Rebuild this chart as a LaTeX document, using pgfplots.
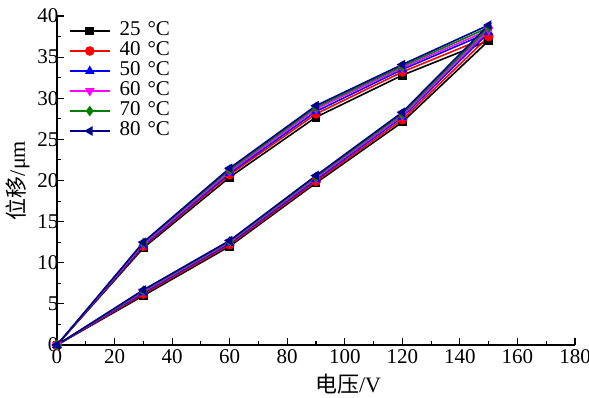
\documentclass[border=0pt]{standalone}
\usepackage{fontspec}
\setmainfont{Liberation Serif}
\newfontfamily\cjk{Noto Sans CJK SC}
\usepackage{pgfplots}
\pgfplotsset{compat=1.18}
\definecolor{mygreen}{RGB}{0,128,0}
\definecolor{mynavy}{RGB}{0,0,140}
\definecolor{mymag}{RGB}{255,0,255}
\pgfplotstableread{
v d
0 0
30 6.0
60 12.0
90 19.7
120 27.1
150 37.0
120 32.8
90 27.7
60 20.4
30 11.8
0 0
}\tA
\pgfplotstableread{
v d
0 0
30 6.2
60 12.2
90 19.9
120 27.4
150 37.5
120 33.2
90 28.1
60 20.7
30 12.0
0 0
}\tB
\pgfplotstableread{
v d
0 0
30 6.35
60 12.35
90 20.1
120 27.7
150 38.0
120 33.5
90 28.4
60 20.9
30 12.1
0 0
}\tC
\pgfplotstableread{
v d
0 0
30 6.5
60 12.5
90 20.3
120 27.9
150 38.3
120 33.7
90 28.7
60 21.1
30 12.25
0 0
}\tD
\pgfplotstableread{
v d
0 0
30 6.6
60 12.6
90 20.45
120 28.1
150 38.6
120 33.9
90 28.9
60 21.3
30 12.4
0 0
}\tE
\pgfplotstableread{
v d
0 0
30 6.7
60 12.7
90 20.6
120 28.3
150 38.9
120 34.1
90 29.1
60 21.5
30 12.5
0 0
}\tF
\begin{document}
\begin{tikzpicture}
\begin{axis}[
  scale only axis, width=518pt, height=329pt,
  at={(0,0)}, anchor=south west,
  xmin=0, xmax=180, ymin=0, ymax=40,
  axis x line*=bottom, axis y line*=left,
  axis line style={-, line width=1.2pt, black},
  xtick={0,20,...,180}, ytick={0,5,...,40},
  minor x tick num=1, minor y tick num=1,
  tick align=inside,
  major tick length=7pt, minor tick length=4pt,
  every tick/.style={black, line width=1.1pt},
  tick label style={font=\fontsize{21}{25}\selectfont},
  xticklabel style={yshift=-1pt},
  yticklabel style={xshift=5pt},
  /pgf/number format/assume math mode=true,
  label style={font=\fontsize{22}{26}\selectfont},
  xlabel={{\cjk 电压}/V},
  ylabel={{\cjk 位移}/μm},
  xlabel style={at={(axis description cs:0.562,-0.1185)}, anchor=center},
  ylabel style={at={(axis description cs:-0.0753,0.5)}, anchor=center},
  clip=false,
  legend style={at={(rel axis cs:0,1)}, anchor=north west, xshift=12pt, yshift=-5pt,
    draw=none, fill=none, inner sep=0pt, outer sep=0pt,
    font=\fontsize{21}{25}\selectfont, row sep=0pt,
    nodes={inner sep=1pt, text height=14pt, text depth=4pt},
    /tikz/every odd column/.append style={column sep=8pt}},
  legend cell align=left,
  legend image code/.code={\draw[mark repeat=2,mark phase=2] plot coordinates {(0pt,0pt) (20pt,0pt) (40pt,0pt)};},
  every axis plot/.append style={line width=1.6pt, mark size=4pt, mark options={solid}},
]
\addplot[black, mark=square*, mark size=3.6pt] table {\tA};
\addlegendentry{25\,\,°C}
\addplot[red, mark=*] table {\tB};
\addlegendentry{40\,\,°C}
\addplot[blue, mark=triangle*] table {\tC};
\addlegendentry{50\,\,°C}
\addplot[mymag, mark=triangle*, mark options={rotate=180}] table {\tD};
\addlegendentry{60\,\,°C}
\addplot[mygreen, mark=diamond*] table {\tE};
\addlegendentry{70\,\,°C}
\addplot[mynavy, mark=triangle*, mark options={rotate=90}] table {\tF};
\addlegendentry{80\,\,°C}
\end{axis}
\pgfresetboundingbox
\path[use as bounding box] (-57pt,-53pt) rectangle (532pt,345pt);
\end{tikzpicture}
\end{document}
